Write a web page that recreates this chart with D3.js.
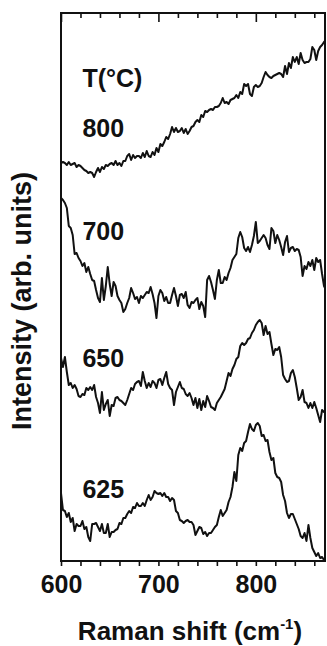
<!DOCTYPE html>
<html>
<head>
<meta charset="utf-8">
<script src="https://cdn.jsdelivr.net/npm/d3@7"></script>
<style>
  body { margin: 0; background: #fff; }
  text { font-family: "Liberation Sans", Arial, sans-serif; font-weight: bold; fill: #111; }
</style>
</head>
<body>
<div id="chart"></div>
<script>
// raman shift sampling, cm-1 (600 .. 872, every 2)
const shift = d3.range(600, 873, 2);

// intensities (arb. units), one value per shift
const t800 = [398, 399, 398, 396, 399, 396, 397, 398, 394, 396,
  395, 393, 391, 390, 388, 389, 388, 384, 389, 393,
  389, 394, 392, 396, 395, 397, 398, 396, 400, 396,
  398, 395, 400, 400, 405, 407, 401, 406, 403, 405,
  405, 403, 408, 404, 410, 405, 404, 409, 406, 413,
  409, 417, 415, 419, 424, 422, 427, 434, 429, 433,
  429, 430, 433, 428, 432, 427, 430, 434, 435, 439,
  441, 439, 446, 444, 450, 449, 451, 452, 451, 454,
  454, 455, 458, 463, 458, 459, 457, 461, 462, 463,
  466, 463, 469, 467, 477, 475, 477, 467, 465, 474,
  476, 474, 475, 478, 484, 489, 486, 484, 483, 485,
  486, 487, 488, 487, 484, 495, 487, 498, 493, 504,
  499, 504, 497, 508, 501, 498, 499, 499, 502, 514,
  511, 501, 510, 514, 516, 519, 521];
const t700 = [363, 361, 358, 353, 335, 333, 326, 307, 308, 303,
  300, 295, 298, 289, 294, 287, 281, 280, 271, 263,
  259, 283, 261, 275, 294, 277, 265, 279, 275, 265,
  261, 258, 249, 252, 258, 263, 273, 268, 262, 264,
  258, 265, 263, 266, 269, 268, 274, 267, 258, 243,
  265, 271, 268, 260, 264, 258, 258, 266, 273, 265,
  255, 266, 267, 263, 269, 256, 253, 259, 258, 261,
  263, 252, 259, 255, 244, 281, 285, 279, 271, 262,
  281, 291, 278, 278, 284, 281, 288, 293, 301, 304,
  307, 323, 329, 324, 313, 310, 314, 309, 316, 325,
  339, 318, 320, 323, 326, 323, 316, 312, 333, 330,
  318, 326, 321, 314, 306, 319, 325, 309, 313, 314,
  310, 312, 311, 304, 285, 295, 292, 299, 295, 301,
  291, 303, 299, 301, 287, 275, 271];
const t650 = [203, 194, 204, 189, 176, 178, 173, 176, 172, 165,
  164, 167, 166, 173, 171, 174, 171, 176, 164, 158,
  148, 169, 151, 157, 161, 145, 156, 155, 163, 164,
  161, 160, 158, 156, 161, 167, 173, 171, 177, 179,
  180, 175, 189, 180, 173, 178, 174, 180, 178, 173,
  181, 182, 176, 183, 189, 177, 173, 171, 156, 169,
  174, 179, 173, 172, 167, 165, 168, 163, 156, 163,
  153, 162, 151, 160, 154, 165, 160, 154, 153, 151,
  158, 161, 164, 168, 172, 180, 188, 185, 192, 196,
  202, 204, 215, 218, 216, 218, 222, 223, 228, 231,
  236, 239, 241, 238, 226, 235, 227, 229, 217, 206,
  212, 211, 214, 204, 186, 182, 179, 180, 188, 191,
  184, 173, 161, 164, 171, 159, 158, 153, 158, 153,
  159, 153, 146, 139, 151, 149, 149];
const t625 = [68, 51, 50, 44, 48, 39, 43, 30, 37, 35,
  35, 40, 32, 34, 24, 20, 37, 37, 38, 34,
  30, 37, 28, 28, 37, 24, 29, 29, 31, 32,
  38, 37, 43, 43, 47, 50, 48, 54, 53, 58,
  55, 55, 58, 55, 61, 66, 61, 64, 70, 68,
  67, 68, 65, 68, 64, 64, 60, 63, 61, 50,
  48, 41, 40, 38, 40, 41, 39, 39, 36, 26,
  30, 34, 33, 27, 29, 25, 28, 28, 31, 34,
  36, 44, 51, 45, 48, 51, 59, 64, 74, 89,
  80, 106, 113, 110, 118, 120, 129, 137, 132, 130,
  136, 138, 135, 125, 126, 120, 121, 109, 101, 103,
  88, 84, 83, 79, 66, 60, 48, 43, 47, 47,
  42, 37, 32, 25, 23, 28, 20, 36, 23, 13,
  9, 5, 8, 3, 4, 1, 1];

const series = [t800, t700, t650, t625];
const temps = ["800", "700", "650", "625"];
const xTicks = [600, 700, 800];

const width = 327;
const height = 646;
const margin = { top: 13, right: 2, bottom: 85, left: 61 };

let xScale = d3.scaleLinear()
    .domain([600, 871])
    .range([margin.left, width - margin.right]);

let yScale = d3.scaleLinear()
    .domain([0, 548])
    .range([height - margin.bottom, margin.top]);

let svg = d3.select("#chart")
    .append("svg")
    .attr("width", width)
    .attr("height", height);

svg.append("clipPath")
    .attr("id", "plot")
    .append("rect")
    .attr("x", margin.left)
    .attr("y", margin.top)
    .attr("width", width - margin.right - margin.left)
    .attr("height", height - margin.bottom - margin.top);

let line = d3.line()
    .x((d, i) => xScale(shift[i]))
    .y(d => yScale(d));

svg.append("g")
    .attr("clip-path", "url(#plot)")
    .selectAll("path")
    .data(series)
    .enter()
    .append("path")
    .attr("d", line)
    .attr("fill", "none")
    .attr("stroke", "#111")
    .attr("stroke-width", 2)
    .attr("stroke-linejoin", "round");

// bottom axis, ticks outward
let minor = d3.range(600, 871, 20);
let xAxis = d3.axisBottom(xScale)
    .tickValues(minor)
    .tickSize(5)
    .tickFormat(d => xTicks.includes(d) ? d : "");

let gx = svg.append("g")
    .attr("transform", "translate(0," + (height - margin.bottom) + ")")
    .call(xAxis);
gx.select(".domain").remove();
gx.selectAll("line").attr("stroke", "#111").attr("stroke-width", 1.6);
gx.selectAll("text")
    .attr("font-size", "25px")
    .attr("dy", "0")
    .attr("y", 32);

// top axis, ticks inward
let xTop = d3.axisTop(xScale)
    .tickValues(minor)
    .tickSize(0)
    .tickFormat("");
let gt = svg.append("g")
    .attr("transform", "translate(0," + margin.top + ")")
    .call(xTop);
gt.select(".domain").remove();
gt.selectAll(".tick").append("line")
    .attr("y1", 0)
    .attr("y2", d => xTicks.includes(d) ? 9 : 5)
    .attr("stroke", "#111")
    .attr("stroke-width", 1.6);

// frame
svg.append("rect")
    .attr("x", margin.left)
    .attr("y", margin.top)
    .attr("width", width - margin.right - margin.left)
    .attr("height", height - margin.bottom - margin.top)
    .attr("fill", "none")
    .attr("stroke", "#111")
    .attr("stroke-width", 2);

// temperature labels
svg.append("text")
    .attr("x", xScale(622))
    .attr("y", 87)
    .attr("font-size", "25px")
    .text("T(°C)");

let labelY = [137, 240, 367, 498];
svg.selectAll("text.temp")
    .data(temps)
    .enter()
    .append("text")
    .attr("class", "temp")
    .attr("x", xScale(622))
    .attr("y", (d, i) => labelY[i])
    .attr("font-size", "25px")
    .text(d => d);

// axis titles
let xLabel = svg.append("text")
    .attr("x", 190)
    .attr("y", 640)
    .attr("font-size", "26px")
    .attr("text-anchor", "middle");
xLabel.append("tspan").text("Raman shift (cm");
xLabel.append("tspan").attr("font-size", "15px").attr("dy", -11).text("-1");
xLabel.append("tspan").attr("dy", 11).text(")");

svg.append("text")
    .attr("transform", "rotate(-90)")
    .attr("x", -301)
    .attr("y", 31)
    .attr("font-size", "27px")
    .attr("text-anchor", "middle")
    .text("Intensity (arb. units)");
</script>
</body>
</html>
